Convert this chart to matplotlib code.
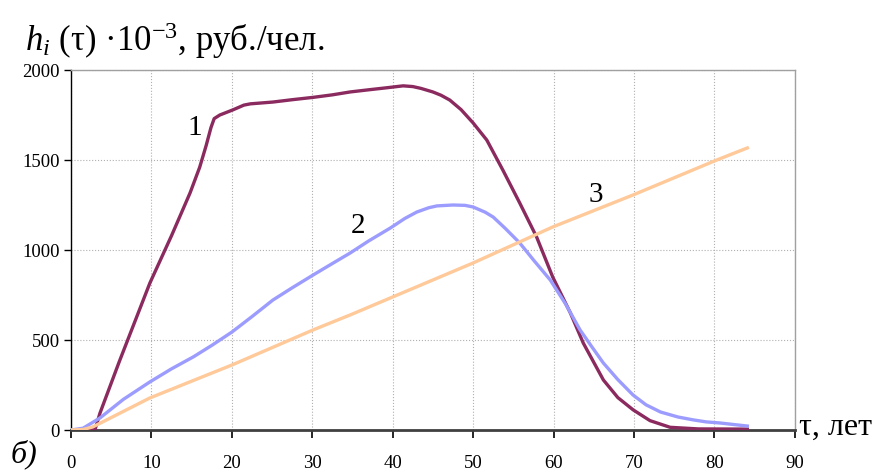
import matplotlib
matplotlib.use("Agg")
import matplotlib.pyplot as plt

# Curve 1 (purple)
x1 = [0, 2.5, 3.0, 3.6, 6.0, 9.8, 12.5, 14.8, 16.0, 16.8, 17.4, 17.8, 18.5, 20.1, 21.5, 22.3, 25.1,
      27.5, 30.1, 32.5, 34.7, 37.0, 39.0, 41.3, 42.5, 43.5, 45.0, 46.0, 47.1, 48.5, 50.0, 51.7,
      53.7, 55.8, 57.9, 59.9, 62.1, 63.7, 66.2, 68.0, 69.9, 72.0, 74.5, 78.0, 84.1]
y1 = [0, 0, 5, 94, 380, 816, 1080, 1317, 1460, 1580, 1680, 1730, 1750, 1778, 1805, 1812, 1822,
      1835, 1848, 1862, 1878, 1890, 1900, 1912, 1908, 1898, 1878, 1860, 1833, 1780, 1706, 1611,
      1444, 1261, 1072, 850, 650, 483, 278, 180, 112, 52, 15, 6, 5]

# Curve 2 (blue)
x2 = [0, 1.5, 3.6, 6.5, 9.8, 12.5, 15.2, 17.5, 20.0, 22.5, 25.1, 27.5, 30.1, 32.5, 34.7, 37.0,
      39.7, 41.5, 43.0, 44.5, 45.5, 47.5, 49.0, 50.0, 51.5, 52.5, 54.0,
      55.8, 57.5, 59.6, 61.5, 63.3, 64.8, 66.2, 68.0, 69.9, 71.5, 73.3, 75.5, 77.4, 79.0, 80.7, 82.5, 84.1]
y2 = [0, 10, 67, 170, 267, 340, 406, 470, 544, 630, 722, 790, 861, 925, 983, 1050,
      1122, 1175, 1211, 1235, 1245, 1250, 1248, 1239, 1210, 1183, 1120,
      1039, 945, 833, 700, 556, 460, 372, 280, 194, 140, 100, 72, 56, 45, 39, 30, 22]

# Curve 3 (orange)
x3 = [0, 1.5, 2.7, 9.8, 20.0, 30.1, 34.7, 50.0, 59.9, 69.9, 80.3, 84.1]
y3 = [0, 3, 17, 178, 361, 556, 639, 928, 1128, 1306, 1500, 1567]

x_ticks = [0, 10, 20, 30, 40, 50, 60, 70, 80, 90]
y_ticks = [0, 500, 1000, 1500, 2000]

serif = ["Liberation Serif", "DejaVu Serif"]
plt.rcParams['font.family'] = serif
plt.rcParams['mathtext.fontset'] = 'custom'
plt.rcParams['mathtext.rm'] = 'Liberation Serif'
plt.rcParams['mathtext.it'] = 'Liberation Serif:italic'

fig = plt.figure(figsize=(8.88, 4.73), dpi=100)
ax = fig.add_axes([0.080, 0.0909, 0.815, 0.7611])

ax.plot(x1, y1, color="#8B2A5E", lw=2.4, zorder=3)
ax.plot(x2, y2, color="#9C9CFF", lw=2.4, zorder=3)
ax.plot(x3, y3, color="#FFC999", lw=2.4, zorder=3)

ax.set_xlim(0, 90)
ax.set_ylim(0, 2000)
ax.set_xticks(x_ticks)
ax.set_yticks(y_ticks)
ax.grid(True, color="#b0b0b0", linestyle=":", linewidth=0.8)
ax.set_axisbelow(True)

for s in ["top", "right"]:
    ax.spines[s].set_color("#a0a0a0")
    ax.spines[s].set_linewidth(1.0)
ax.spines["left"].set_color("black")
ax.spines["left"].set_linewidth(1.0)
ax.spines["bottom"].set_color("#404040")
ax.spines["bottom"].set_linewidth(2.0)

ax.tick_params(axis="x", direction="out", length=6, width=1.2, pad=12, labelsize=13.5)
ax.tick_params(axis="y", direction="out", length=5, width=1.0, pad=3, labelsize=13.5)

ax.text(15.4, 1678, "1", fontsize=21, ha="center", va="center")
ax.text(35.7, 1133, "2", fontsize=21, ha="center", va="center")
ax.text(65.2, 1306, "3", fontsize=21, ha="center", va="center")

fig.text(0.028, 0.915, r"$h_i$ (τ) ·10$^{-3}$, руб./чел.", fontsize=25, ha="left", va="center",
         family=serif)
fig.text(0.900, 0.096, "τ, лет", fontsize=23, ha="left", va="center", family=serif)
fig.text(0.012, 0.040, "б)", fontsize=23, ha="left", va="center", style="italic", family=serif)

fig.savefig("out.png", dpi=100)
